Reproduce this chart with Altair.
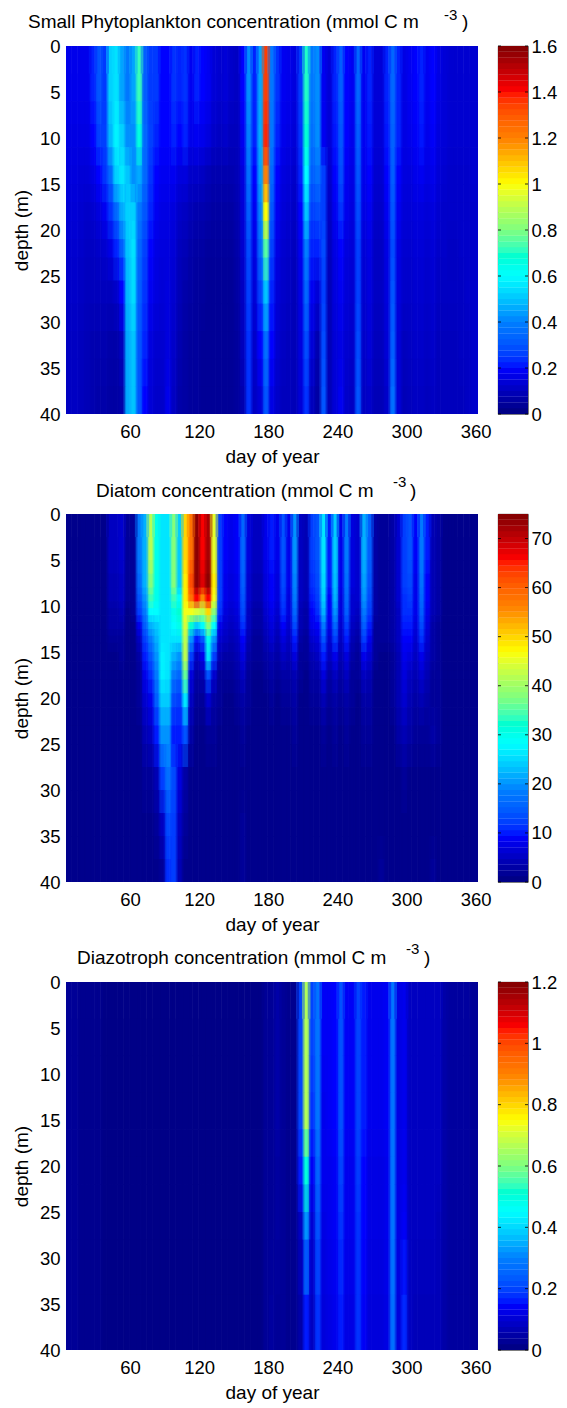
import altair as alt

# column centres (day of year); each column spans 5 days
DAYS = list(range(3, 364, 5))

PHYTO_EDGES = [0, 6, 11, 15, 19, 23, 28, 34, 40]
PHYTO = [  # mmol C m-3 x 100
 [17,17,17,17,17,22,30,25,52,55, 45,38,45,72,32,25,25,20,20,24, 22,24,18,22,20,18,14,13,14,12, 11,20,42,22,45,135,38,24,18,17, 15,25,70,38,42,18,14,22,32,20, 18,34,18,22,14,14,22,34,22,16, 18,20,22,18,20,16,14,13,13,13, 13,13,13],
 [16,16,16,16,16,20,26,26,48,58, 52,42,42,66,34,26,22,20,20,22, 20,22,17,18,17,15,12,11,12,10, 10,18,40,22,46,138,38,22,17,16, 14,24,68,36,42,18,14,21,30,20, 17,32,18,21,14,14,21,33,22,16, 17,19,21,17,19,15,14,13,13,13, 13,13,13],
 [15,15,15,14,14,16,20,24,34,52, 56,50,42,46,34,24,20,18,18,18, 15,15,12,12,11,9,8,8,8,8, 9,15,36,20,44,120,34,20,15,14, 12,22,60,32,36,26,12,20,28,18, 16,30,17,20,13,13,20,32,20,15, 15,17,18,16,17,14,13,12,12,12, 12,13,13],
 [14,14,14,13,12,13,15,18,24,34, 46,52,52,38,30,22,18,16,16,15, 12,11,9,8,8,7,6,6,6,6, 8,14,32,18,40,100,30,18,14,13, 11,20,50,26,28,26,11,18,24,17, 15,28,16,18,12,12,18,30,18,14, 14,15,15,14,15,13,12,12,12,12, 12,12,13],
 [13,13,13,12,11,11,12,13,16,22, 32,50,55,34,26,20,16,15,15,14, 10,9,7,6,6,5,5,5,5,5, 7,13,28,16,34,75,26,16,13,12, 10,18,40,22,22,28,10,16,20,15, 14,26,14,16,11,11,16,28,16,13, 13,14,14,13,14,12,12,11,11,12, 12,12,13],
 [12,12,12,11,10,10,10,10,10,12, 20,48,54,32,24,18,15,14,15,13, 9,7,6,5,5,4,4,4,4,4, 6,11,26,14,26,50,22,14,12,11, 9,16,34,18,14,26,9,15,18,14, 13,26,13,15,11,11,15,30,15,12, 12,13,13,12,13,11,11,11,11,11, 12,12,13],
 [11,11,11,10,9,8,8,8,7,7, 10,46,50,30,22,15,13,13,15,12, 8,6,5,5,4,4,4,4,4,4, 5,10,24,12,20,36,20,13,11,10, 9,15,28,14,8,28,9,14,16,13, 12,28,12,14,10,10,14,32,14,10, 11,12,12,11,12,10,10,10,10,11, 11,12,13],
 [10,11,11,10,9,8,7,7,6,6, 7,46,50,30,20,14,12,12,17,11, 7,6,5,5,4,4,4,4,4,4, 5,8,24,11,14,30,16,12,10,10, 9,14,24,10,6,30,9,14,18,12, 11,30,11,12,9,9,12,36,14,9, 10,11,11,10,11,10,10,10,10,10, 11,12,13],
]

DIATOM_EDGES = [0, 5, 8, 9.5, 11, 12.5, 14, 16, 18, 21, 25, 30, 35, 40]
DIATOM = [  # mmol C m-3
 [1,1,1,1,1,1,1,1,5,5, 6,2,2,18,22,42,30,26,26,38, 24,50,58,74,66,72,45,12,9,8, 9,16,7,5,5,8,10,8,14,8, 20,5,4,12,14,26,10,24,8,18, 7,6,22,15,3,2,2,3,6,12, 14,9,18,10,4,3,1,1,1,1, 1,1,1],
 [1,1,1,1,1,1,1,1,4,4, 5,2,2,16,22,38,30,26,26,38, 24,48,62,74,68,74,48,12,8,7, 8,15,6,4,4,7,9,7,13,8, 19,5,4,11,13,25,10,23,8,17, 7,6,21,14,3,2,2,3,6,12, 13,8,17,9,4,3,1,1,1,1, 1,1,1],
 [1,1,1,1,1,1,1,1,4,4, 5,2,2,14,20,34,30,26,26,34, 28,48,58,66,56,66,46,12,8,7, 8,14,6,4,4,7,9,7,12,7, 18,5,4,10,12,24,9,22,7,16, 6,6,20,13,3,2,2,3,6,11, 12,8,16,9,4,3,1,1,1,1, 1,1,1],
 [1,1,1,1,1,1,1,1,3,3, 4,1,2,12,18,28,28,26,26,30, 32,46,46,44,42,50,38,11,7,6, 7,13,5,3,3,6,8,6,11,7, 16,4,3,9,11,22,9,20,7,15, 6,5,18,12,3,2,2,3,5,11, 11,8,15,8,4,3,1,1,1,1, 1,1,1],
 [1,1,1,1,1,1,1,1,3,3, 3,1,1,8,15,22,24,26,26,28, 30,44,32,24,28,38,28,8,6,5, 6,11,5,3,3,5,7,5,9,6, 13,4,3,8,9,18,8,16,6,12, 5,4,15,10,2,2,2,3,5,10, 10,7,13,7,3,2,1,1,1,1, 1,1,1],
 [1,1,1,1,1,1,1,1,2,2, 2,1,1,5,12,18,22,26,26,26, 26,42,20,10,14,30,20,6,5,4, 5,9,4,2,2,4,6,4,7,5, 10,3,2,6,7,14,6,12,5,10, 4,3,12,8,2,2,2,3,5,9, 9,6,11,6,3,2,1,1,1,1, 1,1,1],
 [1,1,1,1,1,1,1,1,1,1, 2,1,1,3,10,14,20,27,26,22, 20,42,12,5,8,26,12,4,3,3, 4,7,3,2,2,3,4,3,5,4, 7,2,2,4,5,10,5,8,4,7, 3,2,8,6,2,1,1,2,4,8, 7,5,8,5,3,2,1,1,1,1, 1,1,1],
 [1,1,1,1,1,1,1,1,1,1, 1,1,1,2,8,11,18,27,26,18, 16,36,7,3,4,14,6,2,2,2, 3,5,2,1,1,2,3,2,3,3, 4,2,1,3,3,7,3,5,3,5, 2,2,5,4,1,1,1,2,4,7, 5,4,6,4,2,2,1,1,1,1, 1,1,1],
 [1,1,1,1,1,1,1,1,1,1, 1,1,1,2,6,8,15,24,24,13, 12,26,5,2,2,6,3,2,1,1, 2,3,2,1,1,1,2,1,2,2, 3,1,1,2,2,4,2,3,2,3, 2,1,3,3,1,1,1,2,4,6, 4,3,4,3,2,2,1,1,1,1, 1,1,1],
 [1,1,1,1,1,1,1,1,1,1, 1,1,1,1,4,5,10,20,20,10, 10,14,3,1,1,2,2,1,1,1, 1,2,1,1,1,1,1,1,1,1, 2,1,1,1,1,2,1,2,1,2, 1,1,2,2,1,1,1,1,3,4, 3,2,2,2,3,2,1,1,1,1, 1,1,1],
 [1,1,1,1,1,1,1,1,1,1, 1,1,1,1,2,2,4,12,17,13, 7,3,1,1,1,1,1,1,1,1, 1,1,1,1,1,1,1,1,1,1, 1,1,1,1,1,1,1,1,1,1, 1,1,1,1,1,1,1,1,1,2, 1,1,1,1,1,1,1,1,1,1, 1,1,1],
 [1,1,1,1,1,1,1,1,1,1, 1,1,1,1,1,1,2,5,13,12, 5,2,1,1,1,1,1,1,1,1, 1,2,1,1,1,1,1,1,1,1, 1,1,1,1,1,1,1,1,1,1, 1,1,1,1,1,1,1,1,1,1, 1,1,1,1,1,1,1,1,1,1, 1,1,1],
 [1,1,1,1,1,1,1,1,1,1, 1,1,1,1,1,1,1,2,11,12, 4,1,1,1,1,1,1,1,1,1, 1,2,1,1,1,1,1,1,1,1, 1,1,1,1,1,1,1,1,1,1, 1,1,1,1,1,2,1,1,1,1, 1,1,1,1,2,1,1,1,1,1, 1,1,1],
]

DIAZO_EDGES = [0, 8, 16, 22, 28, 40]
DIAZO = [  # mmol C m-3 x 100
 [3,3,3,2,2,2,2,1,1,1, 1,1,1,1,1,1,1,1,1,1, 1,1,1,1,1,1,1,1,1,1, 1,1,1,1,1,3,3,5,3,2, 2,20,66,20,28,14,14,15,22,14, 14,20,16,13,13,13,14,28,12,13, 8,8,8,8,8,8,5,4,4,4, 4,3,3],
 [3,3,3,2,2,2,2,1,1,1, 1,1,1,1,1,1,1,1,1,1, 1,1,1,1,1,1,1,1,1,1, 1,1,1,1,1,3,3,5,3,2, 2,20,66,18,28,13,14,15,22,14, 14,20,16,13,13,13,14,28,12,13, 8,8,8,8,8,8,5,4,4,4, 4,3,3],
 [3,3,3,2,2,2,2,1,1,1, 1,1,1,1,1,1,1,1,1,1, 1,1,1,1,1,1,1,1,1,1, 1,1,1,1,1,3,3,4,3,2, 2,16,50,14,25,13,13,14,20,13, 13,19,15,12,12,12,13,28,12,13, 8,8,8,8,8,8,5,4,4,4, 4,3,3],
 [3,3,3,2,2,2,2,1,1,1, 1,1,1,1,1,1,1,1,1,1, 1,1,1,1,1,1,1,1,1,1, 1,1,1,1,1,3,3,4,3,2, 2,8,32,10,22,12,13,14,18,13, 13,18,15,12,12,12,13,28,12,14, 8,8,8,8,8,7,5,4,4,4, 4,3,3],
 [3,3,3,2,2,2,2,1,1,1, 1,1,1,1,1,1,1,1,1,1, 1,1,1,1,1,1,1,1,1,1, 1,1,1,1,1,3,4,3,3,2, 2,5,16,8,18,11,12,13,16,12, 12,18,14,11,11,11,12,27,11,17, 8,7,7,7,7,7,5,4,4,4, 4,3,3],
]

JET = ["#00007f", "#0000ff", "#007fff", "#00ffff", "#7fff7f",
       "#ffff00", "#ff7f00", "#ff0000", "#7f0000"]
DEPTH_TICKS = [0, 5, 10, 15, 20, 25, 30, 35, 40]
DAY_TICKS = [60, 120, 180, 240, 300, 360]
FONT = "Liberation Sans"
W, H, BAR_W = 412, 368, 30
TICK_FS, TITLE_FS = 18.5, 19


def color_scale(vmax):
    return alt.Scale(domain=[vmax * i / 8 for i in range(9)], range=JET, clamp=True)


def heat(edges, rows, factor, vmax, title_parts):
    base, across, down = [], [], []
    n = len(rows)
    for r, row in enumerate(rows):
        mid = (edges[r] + edges[r + 1]) / 2
        nxt = (edges[r + 1] + edges[r + 2]) / 2 if r + 2 <= n else edges[r + 1]
        for day, v in zip(DAYS, row):
            val = v / factor
            base.append({"d0": day - 3.75, "d1": day + 1.55, "z0": edges[r], "z1": edges[r + 1] + 0.06, "v": val})
            across.append({"d0": day - 1.25, "d1": day + 3.75, "z0": edges[r], "z1": edges[r + 1], "v": val})
            down.append({"d0": day - 2.5, "d1": day + 2.5, "z0": mid, "z1": nxt, "v": val})
    scale = color_scale(vmax)
    x_enc = alt.X("d0:Q", scale=alt.Scale(domain=[4.5, 362], nice=False, zero=False),
                  axis=alt.Axis(values=DAY_TICKS, title="day of year", ticks=False, domain=False,
                                grid=False, labelFont=FONT, labelFontSize=TICK_FS, labelColor="black",
                                labelPadding=8, titleFont=FONT, titleFontSize=TITLE_FS,
                                titleFontWeight="normal", titleColor="black", titlePadding=7,
                                labelOverlap=False, labelFlush=False))
    y_enc = alt.Y("z0:Q", scale=alt.Scale(domain=[0, 40], reverse=True, nice=False),
                  axis=alt.Axis(values=DEPTH_TICKS, title="depth (m)", ticks=False, domain=False,
                                grid=False, labelFont=FONT, labelFontSize=TICK_FS, labelColor="black",
                                labelPadding=6, titleFont=FONT, titleFontSize=TITLE_FS,
                                titleFontWeight="normal", titleColor="black", titlePadding=8,
                                labelOverlap=False, labelFlush=False))
    layers = []
    for recs, op in ((base, 1), (across, 0.5), (down, 0.5)):
        layers.append(alt.Chart(alt.Data(values=recs)).mark_rect(clip=True, opacity=op).encode(
            x=x_enc, x2="d1:Q", y=y_enc, y2="z1:Q",
            color=alt.Color("v:Q", scale=scale, legend=None)))
    for txt, x, y, size in title_parts:
        layers.append(alt.Chart(alt.Data(values=[{"t": txt}])).mark_text(
            align="left", baseline="alphabetic", font=FONT, fontSize=size, color="black"
        ).encode(x=alt.value(x), y=alt.value(y), text="t:N"))
    return alt.layer(*layers).properties(width=W, height=H, view=alt.ViewConfig(stroke=None))


def colorbar(vmax, ticks):
    levels = [{"a": vmax * i / 64, "b": vmax * (i + 1.04) / 64, "v": vmax * (i + 0.5) / 64}
              for i in range(64)]
    y_scale = alt.Scale(domain=[0, vmax], nice=False)
    y_axis = alt.Axis(orient="right", values=ticks, ticks=False, domain=False, grid=False,
                      title=None, labelFont=FONT, labelFontSize=TICK_FS, labelColor="black",
                      labelPadding=3, labelOverlap=False, labelFlush=False,
                      labelExpr="'' + datum.value")
    bands = alt.Chart(alt.Data(values=levels)).mark_rect(clip=True).encode(
        x=alt.value(0), x2=alt.value(BAR_W),
        y=alt.Y("a:Q", scale=y_scale, axis=y_axis), y2="b:Q",
        color=alt.Color("v:Q", scale=color_scale(vmax), legend=None),
    )
    tick_data = alt.Data(values=[{"t": t} for t in ticks])
    left = alt.Chart(tick_data).mark_rule(color="black", strokeWidth=0.8).encode(
        x=alt.value(0), x2=alt.value(3), y=alt.Y("t:Q", scale=y_scale, axis=y_axis))
    right = alt.Chart(tick_data).mark_rule(color="black", strokeWidth=0.8).encode(
        x=alt.value(BAR_W - 3), x2=alt.value(BAR_W), y=alt.Y("t:Q", scale=y_scale, axis=y_axis))
    return alt.layer(bands, left, right).properties(
        width=BAR_W, height=H, view=alt.ViewConfig(stroke="#333333", strokeWidth=0.8))


p1 = heat(PHYTO_EDGES, PHYTO, 100, 1.6, [
    ("Small Phytoplankton concentration (mmol C m", -38, -18, TITLE_FS),
    ("-3", 378, -26, 15), (")", 396, -18, TITLE_FS)])
p2 = heat(DIATOM_EDGES, DIATOM, 1, 75, [
    ("Diatom concentration (mmol C m", 30, -17, TITLE_FS),
    ("-3", 327, -27, 15), (")", 344, -17, TITLE_FS)])
p3 = heat(DIAZO_EDGES, DIAZO, 100, 1.2, [
    ("Diazotroph concentration (mmol C m", 11, -18, TITLE_FS),
    ("-3", 340, -28, 15), (")", 358, -18, TITLE_FS)])

chart = alt.concat(
    p1, colorbar(1.6, [0, 0.2, 0.4, 0.6, 0.8, 1, 1.2, 1.4, 1.6]),
    p2, colorbar(75, [0, 10, 20, 30, 40, 50, 60, 70]),
    p3, colorbar(1.2, [0, 0.2, 0.4, 0.6, 0.8, 1, 1.2]),
    columns=2, spacing=alt.RowColnumber(column=20, row=100),
    bounds="flush",
).properties(padding={"left": 4, "top": 0, "right": 0, "bottom": 0}, background="white"
).resolve_scale(color="independent", y="independent", x="independent")

chart.save("out.html", embed_options={"renderer": "svg", "actions": False})
